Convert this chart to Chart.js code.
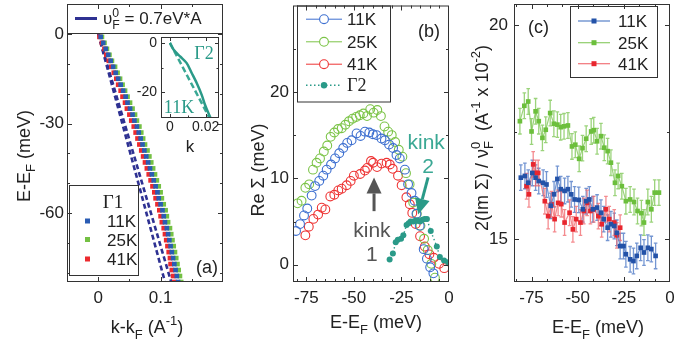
<!DOCTYPE html>
<html><head><meta charset="utf-8">
<script src="https://cdn.jsdelivr.net/npm/chart.js@4"></script>
<style>
html,body{margin:0;padding:0;background:#fff;width:674px;height:347px;overflow:hidden}
canvas{position:absolute;left:0;top:0}
</style></head><body>
<canvas id="ca" width="674" height="347"></canvas>
<canvas id="ci" width="674" height="347"></canvas>
<canvas id="cb" width="674" height="347"></canvas>
<canvas id="cc" width="674" height="347"></canvas>
<script>
// ---------------- DATA ----------------
// Panel (a): dispersion Γ1, E (meV) vs k-kF (1/A)
const aE   = [-1,-3,-5,-7,-9,-11,-13,-15,-17,-19,-21,-23,-25,-27,-29,-31,-33,-35,-37,-39,-41,-43,-45,-47,-49,-51,-53,-55,-57,-59,-61,-63,-65,-67,-69,-71,-73,-75,-77,-79,-81,-83];
const aK11 = [0.004,0.008,0.012,0.016,0.020,0.024,0.028,0.032,0.036,0.040,0.044,0.047,0.051,0.055,0.058,0.062,0.065,0.068,0.071,0.074,0.077,0.080,0.083,0.086,0.089,0.092,0.095,0.097,0.100,0.103,0.105,0.107,0.110,0.112,0.114,0.116,0.118,0.120,0.122,0.124,0.126,0.128];
const aK25 = [0.006,0.010,0.014,0.018,0.022,0.027,0.031,0.035,0.039,0.043,0.047,0.051,0.055,0.059,0.062,0.066,0.069,0.072,0.075,0.079,0.082,0.085,0.088,0.091,0.094,0.097,0.100,0.102,0.105,0.108,0.110,0.112,0.115,0.117,0.119,0.121,0.123,0.125,0.127,0.129,0.131,0.133];
const aK41 = [0.002,0.006,0.010,0.013,0.017,0.021,0.025,0.029,0.032,0.036,0.039,0.043,0.046,0.050,0.053,0.057,0.060,0.063,0.066,0.069,0.072,0.075,0.078,0.081,0.084,0.087,0.090,0.092,0.095,0.098,0.100,0.102,0.105,0.107,0.109,0.111,0.113,0.115,0.116,0.118,0.120,0.122];
const aBareE  = [0,-83];
const aBareK1 = [0,0.107];
const aBareK2 = [0,0.117];
// Inset: Γ2 at 11K
const inE     = [0,-2.7,-5.5,-8.2,-12.2,-16.3,-21.1,-25.2,-28.6,-30.5];
const inK     = [0,0.002,0.0057,0.0094,0.0122,0.015,0.0178,0.0197,0.0216,0.0228];
const inDashE = [0,-30.5];
const inDashK = [0,0.0222];
// Panel (b): Re Σ
const b11E = [-80.4,-78.3,-76.2,-74.5,-72.2,-70.4,-68.2,-66.1,-64.3,-62.0,-59.9,-57.7,-55.6,-53.5,-51.2,-48.6,-46.5,-44.2,-41.9,-40.0,-38.1,-35.5,-33.7,-31.5,-29.4,-27.6,-25.9,-23.2,-21.5,-19.7,-18.0,-17.1,-15.4,-13.3,-11.6,-9.9,-8.2];
const b11R = [3.9,4.7,5.7,6.5,8.0,9.1,9.7,10.3,11.0,11.6,12.3,12.9,13.5,14.1,14.4,15.2,14.9,15.4,15.3,15.1,15.0,14.6,14.4,13.9,13.5,12.7,12.3,11.0,9.3,8.3,7.4,5.9,4.5,1.8,0.7,-0.3,-1.0];
const b25E = [-79.6,-77.5,-75.5,-73.5,-71.5,-69.6,-67.8,-65.8,-64.0,-62.2,-60.3,-58.3,-56.4,-54.5,-52.6,-50.7,-48.8,-46.9,-45.0,-43.1,-41.4,-39.6,-37.7,-35.8,-33.9,-32.0,-30.1,-28.3,-26.4,-24.5,-22.6,-20.7,-18.8,-16.9,-15.0,-13.1,-11.2,-9.3,-7.4];
const b25R = [7.1,7.4,8.9,9.3,11.0,11.8,12.3,13.1,13.8,14.8,15.3,15.7,15.8,16.2,16.6,16.9,17.1,17.3,17.5,17.2,18.0,17.6,17.9,17.2,16.0,15.4,15.0,14.2,13.3,12.5,10.6,9.3,7.2,5.9,4.5,3.0,1.7,0.1,-1.5];
const b41E = [-75.5,-73.7,-71.3,-68.8,-66.9,-65.0,-62.4,-60.3,-58.2,-56.4,-53.8,-51.7,-50.0,-46.7,-44.2,-43.0,-41.0,-39.9,-37.8,-35.4,-32.8,-31.1,-29.6,-26.8,-24.9,-22.4,-20.6,-19.3,-17.5,-15.2,-12.7,-10.3,-8.0,-5.2,-2.5];
const b41R = [3.4,4.4,5.3,5.8,6.6,6.4,7.9,8.1,8.6,8.8,9.2,9.7,10.3,10.5,10.9,11.2,12.0,11.8,11.3,11.7,11.8,11.6,11.1,10.3,9.2,7.8,7.0,6.0,4.7,3.3,2.1,1.2,0.8,0.1,-0.4];
const g2E  = [-31.2,-29.5,-28.0,-26.9,-25.2,-24.0,-22.3,-21.2,-20.2,-18.8,-17.6,-16.4,-15.2,-14.0,-12.8,-11.6,-9.6,-6.4,-4.8,-2.6,-0.5];
const g2R  = [0.6,1.3,2.6,2.9,3.0,3.4,4.6,4.8,5.0,5.0,5.1,5.1,5.0,5.2,5.3,5.3,3.9,2.1,0.9,0.5,0.3];
// Panel (c): 2 Im Σ / vF0
const c11E = [-80.8,-78.6,-76.8,-74.6,-72.8,-71.1,-68.7,-66.9,-64.6,-62.8,-61.0,-59.2,-57.1,-55.3,-53.5,-51.7,-49.4,-47.2,-45.4,-43.7,-41.8,-39.5,-37.4,-35.9,-33.8,-32.0,-30.2,-28.8,-27.0,-25.2,-23.9,-21.6,-19.8,-18.0,-15.9,-14.1,-12.0,-10.1,-7.8];
const c11V = [16.44,16.48,16.32,16.55,16.44,16.36,16.32,16.28,15.78,16.05,16.41,16.17,16.13,16.17,16.05,15.93,15.92,15.70,15.89,15.93,15.70,15.74,15.62,15.47,15.27,15.35,15.31,15.15,14.84,14.84,14.65,14.53,14.49,14.61,14.80,14.69,14.80,14.77,14.61];
const c25E = [-81.3,-78.9,-76.8,-75.0,-72.8,-71.1,-69.1,-67.3,-64.9,-62.9,-61.0,-59.2,-57.4,-55.3,-53.1,-51.3,-49.2,-47.4,-45.4,-42.7,-41.3,-39.5,-37.4,-35.6,-33.8,-32.0,-29.8,-28.1,-26.1,-23.9,-21.6,-19.5,-17.6,-15.5,-14.1,-12.0,-10.1,-8.3,-6.0];
const c25V = [17.76,18.12,18.22,17.52,17.99,17.76,17.37,17.56,17.95,17.70,17.68,17.62,17.64,17.66,17.17,17.21,16.88,17.13,17.35,17.52,17.55,17.29,17.41,17.14,17.06,16.79,16.32,16.48,16.24,15.89,15.93,15.87,15.66,15.61,15.39,15.87,15.70,16.09,16.09];
const c41E = [-77.7,-76.4,-74.1,-72.8,-71.4,-67.8,-66.0,-64.2,-62.5,-60.6,-58.9,-57.1,-54.4,-52.6,-50.8,-48.5,-46.7,-44.9,-43.1,-41.3,-38.8,-37.0,-34.7,-32.9,-30.2,-28.8,-27.0];
const c41V = [16.24,16.05,16.75,16.55,16.55,15.89,15.54,15.82,15.47,15.85,15.82,15.39,15.62,15.23,15.47,15.39,15.66,15.85,15.66,15.70,15.54,15.35,15.70,15.47,15.39,15.09,15.27];
const cErr = 0.3;

// ticks and tick labels
const aXTicks = [-0.05,0,0.05,0.1,0.15,0.2];          const aXLabels = ['','0','','0.1','',''];
const aYTicks = [-80,-70,-60,-50,-40,-30,-20,-10,0];   const aYLabels = ['','','-60','','','-30','','','0'];
const iXTicks = [0,0.01,0.02];                         const iXLabels = ['0','','0.02'];
const iYTicks = [0,-10,-20,-30];                       const iYLabels = ['0','','-20',''];
const bXTicks = [-80,-75,-70,-65,-60,-55,-50,-45,-40,-35,-30,-25,-20,-15,-10,-5,0];
const bXLabels = ['','-75','','','','','-50','','','','','-25','','','','','0'];
const bYTicks = [0,5,10,15,20,25];                     const bYLabels = ['0','','10','','20',''];
const cXTicks = [-83.333,-75,-66.667,-58.333,-50,-41.667,-33.333,-25,-16.667,-8.333,0];
const cXLabels = ['','-75','','','-50','','','-25','','','0'];
const cYTicks = [15,17.5,20];                          const cYLabels = ['15','','20'];

// ---------------- STYLE / HELPERS ----------------
const FONT  = '"Liberation Sans", Arial, sans-serif';
const SERIF = '"Liberation Serif", "Times New Roman", serif';
const C_BLUE='#2a5cb4', C_GREEN='#74c043', C_RED='#ec2a2e', C_NAVY='#2e3192', C_TEAL='#2a9a88', C_GRAY='#555';
const TXT='#222';
const W=674, H=347, YW=60, XH=50;

function pts(xs, ys){ return xs.map((x,i)=>({x:x, y:ys[i]})); }

function rich(ctx, segs, x, y, o){
  o=o||{};
  const size=o.size||18, fam=o.family||FONT;
  ctx.save();
  ctx.fillStyle=o.color||TXT; ctx.textBaseline='alphabetic'; ctx.textAlign='left';
  let pend=0;
  const items=segs.map(s=>{
    const t=(typeof s==='string')?{t:s}:s;
    const sz=t.m?size*0.72:size;
    const font=sz+'px '+(t.f||fam);
    ctx.font=font;
    const w=ctx.measureText(t.t).width;
    const dy=t.m==='sub'?size*0.32:(t.m==='sup'?-size*0.42:0);
    let adv;
    if(t.stack){adv=0;pend=w;} else {adv=Math.max(w,pend);pend=0;}
    return {t:t.t,font,dy,adv};
  });
  const total=items.reduce((a,b)=>a+b.adv,0);
  ctx.translate(x,y);
  if(o.rot) ctx.rotate(o.rot);
  let cx=o.align==='left'?0:(o.align==='right'?-total:-total/2);
  for(const it of items){ctx.font=it.font;ctx.fillText(it.t,cx,it.dy);cx+=it.adv;}
  ctx.restore();
}

function axis(isX,min,max,ticks,labels,pad,fs){
  return {
    type:'linear', min:min, max:max, bounds:'data', position:isX?'bottom':'left',
    grid:{display:false,drawTicks:false}, border:{display:false},
    ticks:{autoSkip:false,maxRotation:0,minRotation:0,padding:pad,color:TXT,font:{family:FONT,size:fs},
      callback:(v,i)=>labels[i]},
    afterBuildTicks:s=>{s.ticks=ticks.map(v=>({value:v}));},
    afterFit:s=>{ if(isX) s.height=XH; else s.width=YW; s.paddingLeft=0;s.paddingRight=0;s.paddingTop=0;s.paddingBottom=0; }
  };
}

function framePlugin(xl, yl, maj, minr){
  return {id:'frame', afterDraw(chart){
    const ctx=chart.ctx, a=chart.chartArea, xs=chart.scales.x, ys=chart.scales.y;
    ctx.save(); ctx.strokeStyle='#333'; ctx.lineWidth=1;
    ctx.strokeRect(a.left+0.5,a.top+0.5,a.right-a.left-1,a.bottom-a.top-1);
    ctx.beginPath();
    xs.ticks.forEach((t,i)=>{const p=Math.round(xs.getPixelForValue(t.value))+0.5; if(p<a.left+1||p>a.right-1) return;
      const L=xl[i]?maj:minr; ctx.moveTo(p,a.bottom); ctx.lineTo(p,a.bottom-L); ctx.moveTo(p,a.top); ctx.lineTo(p,a.top+L);});
    ys.ticks.forEach((t,i)=>{const p=Math.round(ys.getPixelForValue(t.value))+0.5; if(p<a.top+1||p>a.bottom-1) return;
      const L=yl[i]?maj:minr; ctx.moveTo(a.left,p); ctx.lineTo(a.left+L,p); ctx.moveTo(a.right,p); ctx.lineTo(a.right-L,p);});
    ctx.stroke(); ctx.restore();
  }};
}

function make(id, area, xs, ys, datasets, extra){
  return new Chart(document.getElementById(id), {
    type:'scatter',
    data:{datasets:datasets},
    options:{
      responsive:false, animation:false, devicePixelRatio:1,
      layout:{padding:{left:area.l-YW, right:W-area.r, top:area.t, bottom:H-area.b-XH}},
      plugins:{legend:{display:false},tooltip:{enabled:false}},
      scales:{x:xs.cfg, y:ys.cfg}
    },
    plugins:[framePlugin(xs.labels, ys.labels, xs.maj||5, xs.min||3)].concat(extra||[])
  });
}

function arrow(ctx,x1,y1,x2,y2,color,sw,hl,hw){
  const ang=Math.atan2(y2-y1,x2-x1), bx=x2-hl*Math.cos(ang), by=y2-hl*Math.sin(ang);
  ctx.save(); ctx.strokeStyle=color; ctx.fillStyle=color; ctx.lineWidth=sw;
  ctx.beginPath(); ctx.moveTo(x1,y1); ctx.lineTo(bx,by); ctx.stroke();
  ctx.beginPath(); ctx.moveTo(x2,y2);
  ctx.lineTo(bx+hw/2*Math.sin(ang), by-hw/2*Math.cos(ang));
  ctx.lineTo(bx-hw/2*Math.sin(ang), by+hw/2*Math.cos(ang));
  ctx.closePath(); ctx.fill(); ctx.restore();
}

// ---------------- PANEL (a) ----------------
const A={l:67,r:223,t:3,b:282};
const sq=(data,color)=>({data,pointStyle:'rect',pointRadius:3.3,backgroundColor:color,borderWidth:0,showLine:false});
make('ca', A,
  {cfg:axis(true,-0.05,0.2,aXTicks,aXLabels,6,17), labels:aXLabels},
  {cfg:axis(false,-83,10,aYTicks,aYLabels,3,17), labels:aYLabels},
  [ sq(pts(aK11,aE),C_BLUE), sq(pts(aK41,aE),C_RED), sq(pts(aK25,aE),C_GREEN),
    {data:pts(aBareK1,aBareE),showLine:true,borderColor:C_NAVY,borderWidth:2.6,borderDash:[5,3],pointRadius:0},
    {data:pts(aBareK2,aBareE),showLine:true,borderColor:C_NAVY,borderWidth:2.6,borderDash:[5,3],pointRadius:0} ],
  [{id:'aExtra', afterDraw(chart){
    const ctx=chart.ctx, a=chart.chartArea;
    ctx.save(); ctx.strokeStyle='#333'; ctx.lineWidth=1;
    // top legend box
    ctx.strokeRect(a.left+0.5,a.top+0.5,a.right-a.left-1,29);
    ctx.strokeStyle=C_NAVY; ctx.lineWidth=3; ctx.beginPath(); ctx.moveTo(a.left+8,18.5); ctx.lineTo(a.left+30,18.5); ctx.stroke();
    rich(ctx,['υ',{t:'F',m:'sub',stack:true},{t:'0',m:'sup'},' = 0.7eV*A'],a.left+36,24,{size:17,align:'left'});
    // Γ1 legend box
    ctx.strokeStyle='#333'; ctx.lineWidth=1;
    ctx.strokeRect(a.left+2.5,a.bottom-96.5,69,90);
    rich(ctx,[{t:'Γ1',f:SERIF}],a.left+46,a.bottom-74,{size:19});
    const lg=[[C_BLUE,'11K',-61],[C_GREEN,'25K',-42.5],[C_RED,'41K',-23]];
    lg.forEach(([c,t,dy])=>{ctx.fillStyle=c; ctx.fillRect(a.left+18,a.bottom+dy-2.5,5,5);
      rich(ctx,[t],a.left+40,a.bottom+dy+6,{size:17,align:'left'});});
    rich(ctx,['(a)'],a.left+140,a.bottom-9,{size:18});
    // axis titles
    rich(ctx,['E-E',{t:'F',m:'sub'},' (meV)'],29.5,156,{size:18,rot:-Math.PI/2});
    rich(ctx,['k-k',{t:'F',m:'sub'},' (A',{t:'-1',m:'sup'},')'],147,333,{size:18});
    ctx.restore();
  }}]
);

// ---------------- INSET ----------------
const I={l:161,r:219,t:37,b:118};
make('ci', I,
  {cfg:axis(true,-0.005,0.0275,iXTicks,iXLabels,1,14), labels:iXLabels, maj:4, min:2.5},
  {cfg:axis(false,-30.5,2.4,iYTicks,iYLabels,4,14), labels:iYLabels},
  [ {data:pts(inK,inE),showLine:true,borderColor:C_TEAL,borderWidth:2.5,pointRadius:0,tension:0.3},
    {data:pts(inDashK,inDashE),showLine:true,borderColor:'#3aa894',borderWidth:2.5,borderDash:[6,3],pointRadius:0} ],
  [{id:'iBg', beforeDraw(chart){const c=chart.ctx,a=chart.chartArea;c.save();c.fillStyle='#fff';c.fillRect(a.left,a.top,a.right-a.left,a.bottom-a.top);c.restore();},
    afterDraw(chart){const ctx=chart.ctx,a=chart.chartArea;
      rich(ctx,[{t:'Γ2',f:SERIF}],a.left+43,a.top+22,{size:18,color:C_TEAL});
      rich(ctx,[{t:'11K',f:SERIF}],a.left+18,a.bottom-5,{size:18,color:C_TEAL});
      rich(ctx,['k'],190,152,{size:17});
    }}]
);

// ---------------- PANEL (b) ----------------
const B={l:293,r:449,t:3,b:282};
const oc=(data,color)=>({data,pointStyle:'circle',pointRadius:4.4,backgroundColor:'rgba(0,0,0,0)',borderColor:color,pointBorderWidth:1.1,showLine:false});
make('cb', B,
  {cfg:axis(true,-82,0,bXTicks,bXLabels,6,17), labels:bXLabels},
  {cfg:axis(false,-2,30,bYTicks,bYLabels,4,17), labels:bYLabels},
  [ {data:pts(g2E,g2R),showLine:true,borderColor:C_TEAL,borderWidth:1.4,borderDash:[1.5,2.5],pointRadius:3,pointBackgroundColor:C_TEAL,pointBorderWidth:0},
    oc(pts(b11E,b11R),'#3d6fd0'), oc(pts(b25E,b25R),'#7cc448'), oc(pts(b41E,b41R),'#ee3434') ],
  [{id:'bExtra', afterDraw(chart){
    const ctx=chart.ctx, a=chart.chartArea, xs=chart.scales.x, ys=chart.scales.y;
    const X=v=>xs.getPixelForValue(v), Y=v=>ys.getPixelForValue(v);
    ctx.save();
    ctx.strokeStyle='#333'; ctx.lineWidth=1; ctx.strokeRect(a.left+4.5,a.top+0.5,93,96);
    const lg=[['#3d6fd0','11K',13.7,0],['#7cc448','25K',36.3,0],['#ee3434','41K',58.7,0],[C_TEAL,'Γ2',79.7,1]];
    lg.forEach(([c,t,dy,f])=>{
      const yy=a.top+dy;
      ctx.strokeStyle=c; ctx.lineWidth=f?1.4:1; ctx.setLineDash(f?[1.5,2.5]:[]);
      ctx.beginPath(); ctx.moveTo(a.left+13,yy); ctx.lineTo(a.left+49,yy); ctx.stroke(); ctx.setLineDash([]);
      ctx.beginPath(); ctx.arc(a.left+31,yy,f?3.2:4.4,0,Math.PI*2);
      if(f){ctx.fillStyle=c;ctx.fill();} else {ctx.fillStyle='#fff';ctx.fill();ctx.lineWidth=1.1;ctx.stroke();}
      rich(ctx,[f?{t:t,f:SERIF}:t],a.left+54,yy+6,{size:f?18:17,align:'left'});
    });
    rich(ctx,['(b)'],a.left+136,a.top+31,{size:18});
    // kink annotations
    arrow(ctx,X(-39.4),Y(6.2),X(-39.4),Y(10.1),C_GRAY,3,16,15);
    rich(ctx,['kink'],X(-40.5),Y(4.05)+7,{size:21,color:C_GRAY});
    rich(ctx,['1'],X(-40.5),Y(1.25)+7,{size:21,color:C_GRAY});
    arrow(ctx,X(-11),Y(10.1),X(-16.2),Y(5.8),C_TEAL,3,16,15);
    rich(ctx,['kink'],X(-12),Y(14.2)+7,{size:21,color:'#3aa894'});
    rich(ctx,['2'],X(-11),Y(11.4)+7,{size:21,color:'#3aa894'});
    // axis titles
    rich(ctx,['Re Σ (meV)'],264,170,{size:18,rot:-Math.PI/2});
    rich(ctx,['E-E',{t:'F',m:'sub'},' (meV)'],376,328,{size:18});
    ctx.restore();
  }}]
);

// ---------------- PANEL (c) ----------------
const Cc={l:514,r:672,t:3,b:282};
const sqc=(data,color,lc)=>({data,showLine:true,borderColor:lc,borderWidth:1.2,pointStyle:'rect',pointRadius:3.3,pointBackgroundColor:color,pointBorderWidth:0,errColor:lc});
make('cc', Cc,
  {cfg:axis(true,-84.5,0,cXTicks,cXLabels,6,17), labels:cXLabels},
  {cfg:axis(false,14,20.5,cYTicks,cYLabels,6,17), labels:cYLabels},
  [ sqc(pts(c11E,c11V),'#2352a8','rgba(70,115,195,0.75)'),
    sqc(pts(c41E,c41V),'#e8262e','rgba(240,100,105,0.75)'),
    sqc(pts(c25E,c25V),'#6cbf3c','rgba(130,200,90,0.8)') ],
  [{id:'cErr', beforeDatasetsDraw(chart){
      const ctx=chart.ctx, xs=chart.scales.x, ys=chart.scales.y;
      ctx.save(); ctx.lineWidth=1.3;
      chart.data.datasets.forEach(ds=>{
        ctx.strokeStyle=ds.errColor; ctx.beginPath();
        ds.data.forEach(p=>{const x=xs.getPixelForValue(p.x), y1=ys.getPixelForValue(p.y-cErr), y2=ys.getPixelForValue(p.y+cErr);
          ctx.moveTo(x,y1);ctx.lineTo(x,y2);ctx.moveTo(x-1.8,y1);ctx.lineTo(x+1.8,y1);ctx.moveTo(x-1.8,y2);ctx.lineTo(x+1.8,y2);});
        ctx.stroke();
      });
      ctx.restore();
    },
    afterDraw(chart){
      const ctx=chart.ctx, a=chart.chartArea;
      ctx.save();
      ctx.strokeStyle='#333'; ctx.lineWidth=1; ctx.strokeRect(a.left+56.5,a.top+2.5,87,71);
      const lg=[['#2352a8','rgba(70,115,195,0.9)','11K',17],['#6cbf3c','rgba(130,200,90,0.9)','25K',38.7],['#e8262e','rgba(240,100,105,0.9)','41K',59.7]];
      lg.forEach(([c,lc,t,dy])=>{const yy=a.top+dy;
        ctx.strokeStyle=lc; ctx.lineWidth=1.2; ctx.beginPath(); ctx.moveTo(a.left+64,yy); ctx.lineTo(a.left+96,yy); ctx.stroke();
        ctx.fillStyle=c; ctx.fillRect(a.left+77.5,yy-2.5,5,5);
        rich(ctx,[t],a.left+104,yy+6,{size:17,align:'left'});});
      rich(ctx,['(c)'],a.left+24.5,a.top+29,{size:18});
      rich(ctx,['2(Im Σ) / ν',{t:'F',m:'sub',stack:true},{t:'0',m:'sup'},'  (A',{t:'-1',m:'sup'},' x 10',{t:'-2',m:'sup'},')'],487.5,138,{size:18,rot:-Math.PI/2});
      rich(ctx,['E-E',{t:'F',m:'sub'},' (meV)'],598,333,{size:18});
      ctx.restore();
    }}]
);
</script>
</body></html>
